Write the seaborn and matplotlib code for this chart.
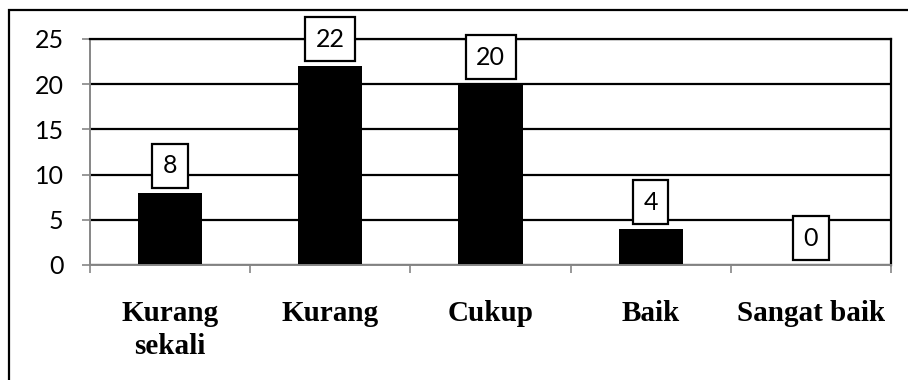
import matplotlib
matplotlib.use("Agg")
import matplotlib.pyplot as plt
import seaborn as sns
import pandas as pd
from matplotlib.patches import Rectangle

# Data
categories = ["Kurang\nsekali", "Kurang", "Cukup", "Baik", "Sangat baik"]
counts = [8, 22, 20, 4, 0]
y_ticks = [0, 5, 10, 15, 20, 25]

sns.set_theme(style="white")
plt.rcParams["font.family"] = ["Lato", "DejaVu Sans"]

df = pd.DataFrame({"kategori": categories, "jumlah": counts})

W, H = 908, 380
fig = plt.figure(figsize=(W / 100, H / 100), dpi=100)
ax = fig.add_axes([90 / W, 1 - 265 / H, (891 - 90) / W, (265 - 39) / H])

sns.barplot(data=df, x="kategori", y="jumlah", order=categories,
            color="black", saturation=1, width=0.4, ax=ax, zorder=2,
            linewidth=0)

ax.set_ylim(0, 25)
ax.set_xlim(-0.5, len(categories) - 0.5)
ax.set_yticks(y_ticks)
ax.set_axisbelow(True)
ax.yaxis.grid(True, color="black", linewidth=1.6)
ax.xaxis.grid(False)

gray = "#868686"
ax.spines["left"].set_color(gray)
ax.spines["bottom"].set_color(gray)
ax.spines["right"].set_color("black")
ax.spines["top"].set_color("black")
for side in ["left", "bottom"]:
    ax.spines[side].set_linewidth(1.4)
for side in ["right", "top"]:
    ax.spines[side].set_linewidth(1.6)

ax.set_xlabel("")
ax.set_ylabel("")

# y ticks
ax.tick_params(axis="y", which="major", left=True, direction="out", length=6,
               width=1.2, color=gray, pad=13, labelsize=18, labelcolor="black")
# category labels without tick marks, boundary ticks as minor ticks
ax.set_xticks(range(len(categories)))
ax.set_xticklabels(categories, fontfamily="Liberation Serif",
                   fontweight="bold", fontsize=21, linespacing=1.3)
ax.tick_params(axis="x", which="major", bottom=True, length=0, pad=25,
               labelcolor="black")
ax.set_xticks([i - 0.5 for i in range(len(categories) + 1)], minor=True)
ax.tick_params(axis="x", which="minor", bottom=True, direction="out",
               length=6, width=1.2, color=gray)

# boxed value labels
for i, v in enumerate(counts):
    ax.annotate(str(v), xy=(i, v), xytext=(0, 11), textcoords="offset points",
                ha="center", va="bottom", fontsize=18, color="black",
                annotation_clip=False, zorder=5,
                bbox=dict(boxstyle="square,pad=0.42", fc="white",
                          ec="black", lw=1.6))

# chart-area border
fig.patches.append(Rectangle((9 / W, -0.1), 1.2, 1 - 10 / H + 0.1,
                             transform=fig.transFigure, fill=False,
                             ec="black", lw=1.6))

fig.savefig("out.png", dpi=100)
